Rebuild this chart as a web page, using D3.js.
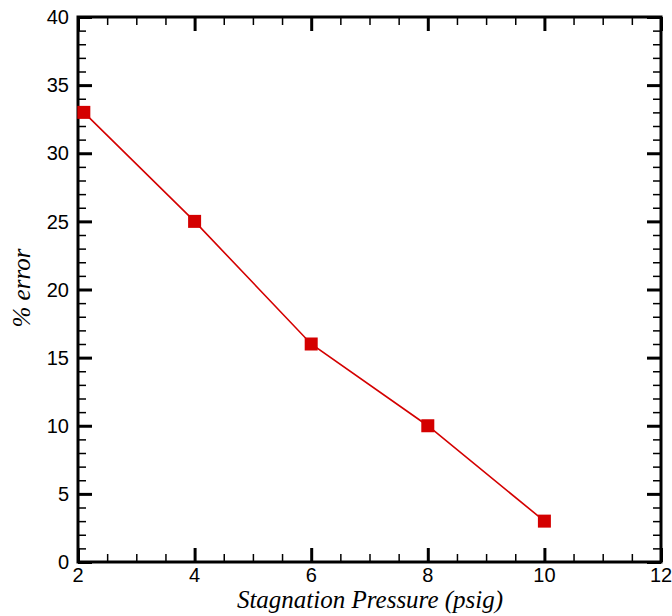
<!DOCTYPE html>
<html>
<head>
<meta charset="utf-8">
<script src="https://cdn.jsdelivr.net/npm/d3@7"></script>
<style>
  html, body { margin: 0; padding: 0; background: #fff; }
  svg { display: block; }
</style>
</head>
<body>
<svg id="chart" width="672" height="616"></svg>
<script>
// Stagnation pressure (psig) vs. percentage error
const pressure = [2.1, 4, 6, 8, 10];
const errorPct = [33, 25, 16, 10, 3];
const xTicks = [2, 4, 6, 8, 10, 12];
const yTicks = [0, 5, 10, 15, 20, 25, 30, 35, 40];

const svg = d3.select("#chart");
const plotLeft = 78, plotRight = 661, plotTop = 17, plotBottom = 562;

const x = d3.scaleLinear().domain([2, 12]).range([plotLeft, plotRight]);
const y = d3.scaleLinear().domain([0, 40]).range([plotBottom, plotTop]);

const tickFont = "Liberation Sans, Arial, sans-serif";
const titleFont = "Liberation Serif, Times New Roman, serif";

// Minor tick positions
const xMinor = d3.range(2, 12.01, 0.5).filter(v => !xTicks.includes(v));
const yMinor = d3.range(0, 40.01, 1).filter(v => !yTicks.includes(v));

const majorLen = 14, minorLen = 8;

// Inward ticks on all four sides, drawn with d3 axes
function tickAxis(axisFn, scale, values, len, transform, width) {
  const g = svg.append("g")
    .attr("transform", transform)
    .call(axisFn(scale).tickValues(values).tickSize(-len).tickFormat(""));
  g.select(".domain").remove();
  g.selectAll(".tick line").attr("stroke", "#000").attr("stroke-width", width);
  return g;
}

tickAxis(d3.axisBottom, x, xTicks, majorLen, `translate(0,${plotBottom})`, 3);
tickAxis(d3.axisBottom, x, xMinor, minorLen, `translate(0,${plotBottom})`, 1.5);
tickAxis(d3.axisTop, x, xTicks, majorLen, `translate(0,${plotTop})`, 3);
tickAxis(d3.axisTop, x, xMinor, minorLen, `translate(0,${plotTop})`, 1.5);
tickAxis(d3.axisLeft, y, yTicks, majorLen, `translate(${plotLeft},0)`, 3);
tickAxis(d3.axisLeft, y, yMinor, minorLen, `translate(${plotLeft},0)`, 1.5);
tickAxis(d3.axisRight, y, yTicks, majorLen, `translate(${plotRight},0)`, 3);
tickAxis(d3.axisRight, y, yMinor, minorLen, `translate(${plotRight},0)`, 1.5);

// Frame
svg.append("rect")
  .attr("x", plotLeft).attr("y", plotTop)
  .attr("width", plotRight - plotLeft).attr("height", plotBottom - plotTop)
  .attr("fill", "none").attr("stroke", "#000").attr("stroke-width", 3);

// Tick labels
svg.append("g").selectAll("text").data(xTicks).join("text")
  .attr("x", d => x(d)).attr("y", 582)
  .attr("text-anchor", "middle")
  .attr("font-family", tickFont).attr("font-size", 20)
  .text(d => d);

svg.append("g").selectAll("text").data(yTicks).join("text")
  .attr("x", 69).attr("y", d => y(d))
  .attr("dy", "0.36em")
  .attr("text-anchor", "end")
  .attr("font-family", tickFont).attr("font-size", 20)
  .text(d => d);

// Axis titles
svg.append("text")
  .attr("x", 370).attr("y", 608)
  .attr("text-anchor", "middle")
  .attr("font-family", titleFont).attr("font-style", "italic").attr("font-size", 25)
  .attr("fill", "#000")
  .text("Stagnation Pressure (psig)");

svg.append("text")
  .attr("transform", `translate(30,288) rotate(-90)`)
  .attr("text-anchor", "middle")
  .attr("font-family", titleFont).attr("font-style", "italic").attr("font-size", 25)
  .attr("fill", "#000")
  .text("% error");

// Data line and square markers
const pts = pressure.map((p, i) => [p, errorPct[i]]);
svg.append("path")
  .datum(pts)
  .attr("fill", "none").attr("stroke", "#d40000").attr("stroke-width", 1.6)
  .attr("d", d3.line().x(d => x(d[0])).y(d => y(d[1])));

const s = 13;
svg.append("g").selectAll("rect").data(pts).join("rect")
  .attr("x", d => x(d[0]) - s / 2).attr("y", d => y(d[1]) - s / 2)
  .attr("width", s).attr("height", s)
  .attr("fill", "#d40000");
</script>
</body>
</html>
